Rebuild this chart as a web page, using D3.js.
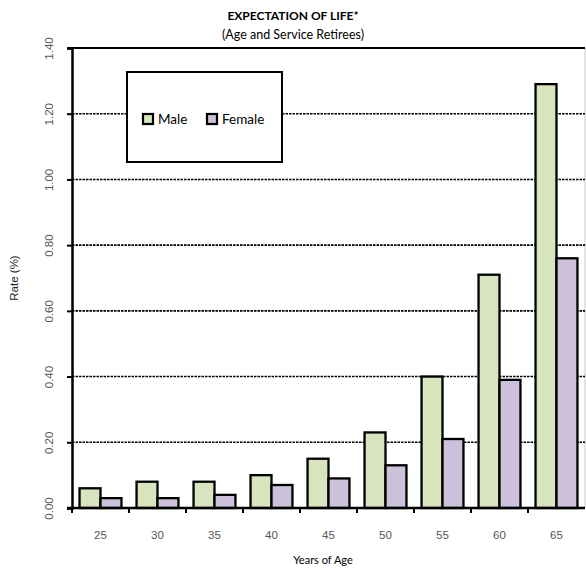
<!DOCTYPE html>
<html>
<head>
<meta charset="utf-8">
<script src="https://cdn.jsdelivr.net/npm/d3@7"></script>
<style>
  html, body { margin: 0; padding: 0; background: #fff; }
  svg { display: block; }
</style>
</head>
<body>
<svg id="chart" width="586" height="572"></svg>
<script>
// Age categories (years of age)
const ages = ["25", "30", "35", "40", "45", "50", "55", "60", "65"];
// Rates (%) by sex
const maleRates   = [0.06, 0.08, 0.08, 0.10, 0.15, 0.23, 0.40, 0.71, 1.29];
const femaleRates = [0.03, 0.03, 0.04, 0.07, 0.09, 0.13, 0.21, 0.39, 0.76];
const seriesNames = ["Male", "Female"];
const seriesColors = ["#d7e4bd", "#ccc0da"];
const yTicks = [0, 0.2, 0.4, 0.6, 0.8, 1.0, 1.2, 1.4];

const svg = d3.select("#chart");
const m = { left: 72, right: 585, top: 48, bottom: 508 };

const x = d3.scaleBand().domain(ages).range([m.left, m.right]).padding(0);
const inner = d3.scaleBand().domain(seriesNames)
  .range([0, x.bandwidth()]).paddingInner(0).paddingOuter(0.36);
const y = d3.scaleLinear().domain([0, 1.4]).range([m.bottom, m.top]);

// right edge of the plot frame
svg.append("line")
  .attr("x1", m.right).attr("x2", m.right)
  .attr("y1", m.top).attr("y2", m.bottom)
  .attr("stroke", "#c8c8c8").attr("stroke-width", 1);

// horizontal gridlines
svg.append("g").selectAll("line")
  .data(yTicks.filter(t => t > 0 && t < 1.4))
  .join("line")
  .attr("x1", m.left).attr("x2", m.right)
  .attr("y1", d => y(d)).attr("y2", d => y(d))
  .attr("stroke", "#000").attr("stroke-width", 1.6)
  .attr("stroke-dasharray", "2.5,1");

// top frame line
svg.append("line")
  .attr("x1", m.left - 5).attr("x2", m.right)
  .attr("y1", y(1.4)).attr("y2", y(1.4))
  .attr("stroke", "#000").attr("stroke-width", 2);

// bars
const rows = ages.map((a, i) => ({ age: a, values: [maleRates[i], femaleRates[i]] }));
const groups = svg.append("g").selectAll("g")
  .data(rows).join("g")
  .attr("transform", d => `translate(${x(d.age)},0)`);
groups.selectAll("rect")
  .data(d => d.values.map((v, j) => ({ key: seriesNames[j], v, j })))
  .join("rect")
  .attr("x", d => inner(d.key))
  .attr("width", inner.bandwidth())
  .attr("y", d => y(d.v))
  .attr("height", d => y(0) - y(d.v))
  .attr("fill", d => seriesColors[d.j])
  .attr("stroke", "#000").attr("stroke-width", 2.3);

// y axis
const yAxis = svg.append("g")
  .attr("transform", `translate(${m.left},0)`)
  .call(d3.axisLeft(y).tickValues(yTicks).tickFormat(d3.format(".2f")).tickSizeOuter(0).tickSize(5));
yAxis.select(".domain").attr("stroke", "#000").attr("stroke-width", 2.5);
yAxis.selectAll(".tick line").attr("stroke", "#000").attr("stroke-width", 2);
yAxis.selectAll(".tick text")
  .attr("x", 0).attr("dy", 0)
  .attr("transform", "translate(-19,0) rotate(-90)")
  .attr("text-anchor", "middle")
  .attr("fill", "#555")
  .style("font-family", "'Liberation Sans', Arial, sans-serif")
  .style("font-size", "11.5px");

// x axis with ticks at category boundaries
const xAxis = svg.append("g")
  .attr("transform", `translate(0,${m.bottom})`);
xAxis.append("line")
  .attr("x1", m.left - 5).attr("x2", m.right)
  .attr("stroke", "#000").attr("stroke-width", 2.5);
xAxis.selectAll("line.tk")
  .data(ages).join("line").attr("class", "tk")
  .attr("x1", d => x(d)).attr("x2", d => x(d))
  .attr("y1", 0).attr("y2", 5)
  .attr("stroke", "#000").attr("stroke-width", 2);
xAxis.selectAll("text")
  .data(ages).join("text")
  .attr("x", d => x(d) + x.bandwidth() / 2)
  .attr("y", 31)
  .attr("text-anchor", "middle")
  .attr("fill", "#555")
  .style("font-family", "'Liberation Sans', Arial, sans-serif")
  .style("font-size", "11.5px")
  .text(d => d);

// titles
svg.append("text")
  .attr("x", 293).attr("y", 20)
  .attr("text-anchor", "middle")
  .style("font-family", "Lato, 'Open Sans', sans-serif")
  .style("font-weight", "bold").style("font-size", "12px")
  .text("EXPECTATION OF LIFE*");
svg.append("text")
  .attr("x", 293).attr("y", 39)
  .attr("text-anchor", "middle")
  .style("font-family", "Lato, 'Open Sans', sans-serif")
  .style("font-size", "12.5px")
  .text("(Age and Service Retirees)");

// axis titles
svg.append("text")
  .attr("transform", "translate(18,278) rotate(-90)")
  .attr("text-anchor", "middle")
  .attr("fill", "#222")
  .style("font-family", "'Liberation Sans', Arial, sans-serif")
  .style("font-size", "11.5px")
  .text("Rate (%)");
svg.append("text")
  .attr("x", 323).attr("y", 564)
  .attr("text-anchor", "middle")
  .style("font-family", "Lato, 'Open Sans', sans-serif")
  .style("font-size", "11px")
  .text("Years of Age");

// legend
const lg = svg.append("g");
lg.append("rect")
  .attr("x", 127).attr("y", 72).attr("width", 155).attr("height", 90)
  .attr("fill", "#fff").attr("stroke", "#000").attr("stroke-width", 2);
const legendX = [143, 207];
seriesNames.forEach((name, j) => {
  lg.append("rect")
    .attr("x", legendX[j]).attr("y", 114).attr("width", 10).attr("height", 10)
    .attr("fill", seriesColors[j]).attr("stroke", "#000").attr("stroke-width", 2.2);
  lg.append("text")
    .attr("x", legendX[j] + 15).attr("y", 124)
    .style("font-family", "Lato, 'Open Sans', sans-serif")
    .style("font-size", "13.5px")
    .text(name);
});
</script>
</body>
</html>
